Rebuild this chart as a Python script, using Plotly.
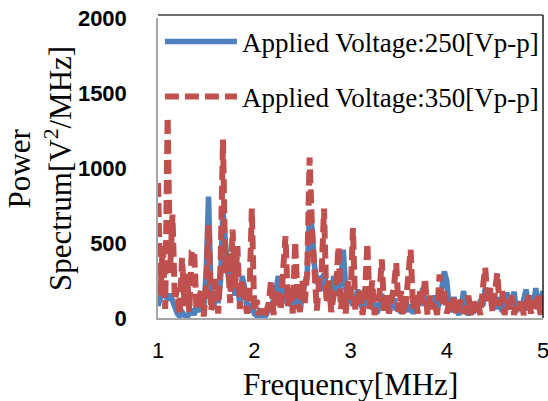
import plotly.graph_objects as go

FREQ_START = 1.0   # MHz
FREQ_STEP = 0.025  # MHz

series_250_name = "Applied Voltage:250[Vp-p]"
series_350_name = "Applied Voltage:350[Vp-p]"

power_250 = [
    80, 120, 180, 150, 120, 160, 110, 60, 30, 10,
    40, 20, 5, 30, 60, 20, 80, 40, 120, 60,
    300, 810, 200, 60, 150, 100, 250, 720, 500, 300,
    200, 350, 150, 200, 100, 280, 200, 60, 40, 100,
    30, 15, 40, 10, 5, 20, 60, 80, 120, 180,
    280, 150, 100, 200, 80, 150, 60, 200, 100, 50,
    150, 250, 300, 720, 600, 350, 250, 260, 180, 300,
    200, 120, 150, 280, 200, 150, 250, 455, 200, 100,
    150, 80, 120, 190, 100, 60, 130, 80, 150, 60,
    100, 30, 80, 160, 60, 100, 40, 80, 130, 50,
    100, 30, 60, 120, 40, 90, 30, 60, 150, 80,
    200, 100, 60, 120, 80, 150, 60, 100, 200, 310,
    250, 80, 40, 140, 60, 20, 80, 180, 60, 20,
    60, 30, 100, 60, 120, 80, 200, 150, 190, 80,
    120, 60, 140, 40, 100, 170, 60, 120, 175, 40,
    100, 60, 140, 190, 50, 150, 80, 200, 60, 120,
    180,
]

power_350 = [
    900, 150, 480, 60, 1340, 300, 690, 120, 200, 20,
    400, 80, 300, 40, 440, 450, 60, 150, 190, 10,
    200, 620, 50, 130, 260, 30, 350, 1190, 300, 450,
    100, 590, 200, 480, 60, 250, 120, 30, 150, 730,
    40, 120, 20, 60, 10, 40, 100, 250, 20, 150,
    190, 50, 320, 545, 80, 200, 30, 510, 120, 40,
    250, 100, 300, 1070, 600, 200, 50, 250, 300, 730,
    100, 250, 40, 150, 200, 475, 60, 180, 30, 250,
    100, 600, 50, 120, 200, 20, 150, 500, 60, 250,
    20, 100, 150, 390, 40, 150, 30, 120, 200, 365,
    40, 180, 20, 100, 250, 455, 60, 150, 30, 200,
    100, 265, 20, 150, 60, 100, 20, 290, 80, 200,
    30, 100, 50, 150, 20, 80, 120, 30, 60, 150,
    20, 120, 40, 100, 20, 200, 335, 100, 200, 40,
    150, 300, 80, 180, 20, 120, 60, 150, 20, 100,
    50, 130, 20, 90, 150, 30, 120, 40, 150, 20,
    165,
]

x_ticks = [1, 2, 3, 4, 5]
y_ticks = [0, 500, 1000, 1500, 2000]

BLUE = "#4F81BD"
RED = "#C0504D"
SERIF = "Liberation Serif, Times New Roman, serif"
SANS = "Liberation Sans, Arial, sans-serif"

fig = go.Figure()
fig.add_trace(go.Scatter(
    x0=FREQ_START, dx=FREQ_STEP, y=power_250, mode="lines",
    name=series_250_name, legendgroup="a",
    line=dict(color=BLUE, width=5.5),
))
fig.add_trace(go.Scatter(
    x0=FREQ_START, dx=FREQ_STEP, y=power_350, mode="lines",
    name=series_350_name, legendgroup="b",
    line=dict(color=RED, width=6, dash="14px,6px"),
))

fig.update_layout(
    width=548, height=401,
    margin=dict(l=158, r=5, t=18, b=83, autoexpand=False),
    paper_bgcolor="white", plot_bgcolor="white",
    showlegend=True,
    legend=dict(
        x=0.005, y=1.002, xanchor="left", yanchor="top",
        bgcolor="rgba(0,0,0,0)", borderwidth=0,
        font=dict(family=SERIF, size=27, color="black"),
        itemwidth=72, tracegroupgap=17, traceorder="grouped",
    ),
    xaxis=dict(
        range=[1, 5], tickvals=x_ticks, ticktext=[str(v) for v in x_ticks],
        showgrid=False, zeroline=False, automargin=False,
        showline=True, linecolor="#A6A6A6", linewidth=1.5,
        ticks="", ticklabelstandoff=12, ticklabeloverflow="allow",
        tickfont=dict(family=SANS, size=22, color="black"),
    ),
    yaxis=dict(
        range=[0, 2000], tickvals=y_ticks, ticktext=[str(v) for v in y_ticks],
        showgrid=False, zeroline=False, automargin=False,
        showline=True, linecolor="#A6A6A6", linewidth=1.5,
        ticks="", ticklabelstandoff=25, ticklabeloverflow="allow",
        tickfont=dict(family=SANS, size=22, color="black", weight="bold"),
    ),
    shapes=[
        dict(type="line", xref="paper", yref="paper", x0=0, x1=1, y0=1.01, y1=1.01,
             line=dict(color="#404040", width=1.5)),
        dict(type="line", xref="paper", yref="paper", x0=1, x1=1, y0=0, y1=1.01,
             line=dict(color="#202020", width=1.5)),
    ],
    annotations=[
        dict(text="Frequency[MHz]", xref="paper", yref="paper", x=0.5, y=-0.22,
             xanchor="center", yanchor="middle", showarrow=False,
             font=dict(family=SERIF, size=31, color="black")),
        dict(text="Power", xref="paper", yref="paper", x=-0.36, y=0.5,
             xanchor="center", yanchor="middle", showarrow=False, textangle=-90,
             font=dict(family=SERIF, size=31, color="black")),
        dict(text="Spectrum[V<sup>2</sup>/MHz]", xref="paper", yref="paper", x=-0.26, y=0.5,
             xanchor="center", yanchor="middle", showarrow=False, textangle=-90,
             font=dict(family=SERIF, size=31, color="black")),
    ],
)

fig.write_html(
    "out.html",
    config={"displayModeBar": False},
    post_script="document.body.style.margin='0';document.body.style.overflow='hidden';",
)
